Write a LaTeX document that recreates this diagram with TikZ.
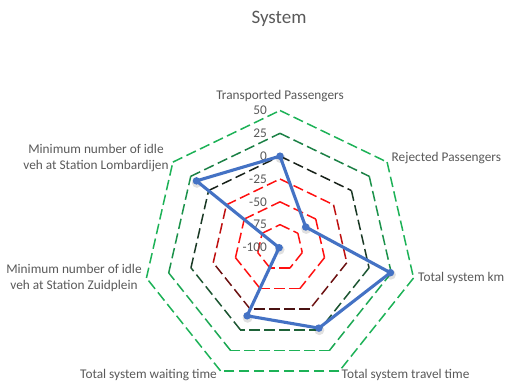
\documentclass[tikz,border=0pt]{standalone}
\usepackage{fontspec}
\setmainfont{Carlito}
\usetikzlibrary{calc}
\definecolor{txtgray}{HTML}{595959}
\definecolor{serblue}{HTML}{4472C4}
\definecolor{grnA}{HTML}{1DB257}
\definecolor{grnB}{HTML}{1B8045}
\definecolor{grnC}{HTML}{1E6238}
\definecolor{blkA}{HTML}{18221A}
\definecolor{redA}{HTML}{FF1010}
\definecolor{redB}{HTML}{4A1212}

\begin{document}
\begin{tikzpicture}[x=1pt,y=1pt,
  ring/.style={line width=1.5pt, dash pattern=on 10.5pt off 4.5pt, line cap=butt},
  lbl/.style={text=txtgray, font=\fontsize{13.3}{16}\selectfont, inner sep=0pt, align=center},
  tick/.style={text=txtgray, font=\fontsize{13.3}{16}\selectfont, inner sep=0pt, anchor=east},
  mk/.style={circle, fill=serblue, inner sep=0pt, minimum size=7.5pt},
  mkshadow/.style={circle, fill=black, opacity=0.12, inner sep=0pt, minimum size=10pt}]
\useasboundingbox (0,0) rectangle (506,385);
\coordinate (c) at (280,137.5);

% title
\node[text=txtgray, font=\fontsize{19}{22}\selectfont, inner sep=0pt] (title) at (279,366) {System};

% gridline rings: value / colour at the top / colour at the bottom
\foreach \v/\ct/\cb in {-75/redA/redA, -50/redA/redA, -25/redA/redB, 0/blkA/grnC, 25/grnB/grnA, 50/grnA/grnA} {
  \pgfmathsetmacro{\rr}{(\v+100)/150*137}
  \foreach \k in {0,...,6} {
    \pgfmathsetmacro{\angA}{90-\k*360/7}
    \pgfmathsetmacro{\angB}{90-(\k+1)*360/7}
    \pgfmathtruncatemacro{\pc}{100*((sin(\angA)+sin(\angB))/2+0.9)/1.71}
    \draw[ring, color=\ct!\pc!\cb]
      ($(c)+(\angA:\rr)$) -- ($(c)+(\angB:\rr)$);
  }
}

% axis scale
\foreach \v [count=\i] in {50,25,0,-25,-50,-75,-100}
  \node[tick] (tk\i) at (267,{137.5+(\v+100)/150*137}) {\v};

% axis labels
\node[lbl] (axA) at (280,289) {Transported Passengers};
\node[lbl, anchor=west] (axB) at (391.5,227) {Rejected Passengers};
\node[lbl, anchor=west] (axC) at (418,107) {Total system km};
\node[lbl, anchor=west] (axD) at (341.5,10) {Total system travel time};
\node[lbl, anchor=east] (axE) at (217,10) {Total system waiting time};
\node[lbl] (axF) at (74,107) {Minimum number of idle\\veh at Station Zuidplein};
\node[lbl] (axG) at (96,226.5) {Minimum number of idle\\veh at Station Lombardijen};

% data series
\foreach \k/\v in {0/0, 1/-64, 2/24, 3/-2, 4/-17, 5/-99, 6/17}
  \coordinate (p\k) at ($(c)+({90-\k*360/7}:{(\v+100)/150*137})$);
\foreach \k in {0,...,6}
  \node[mkshadow] (s\k) at ($(p\k)+(0.5,-2)$) {};
\draw[serblue, line width=3.1pt, line join=round]
  (p0) -- (p1) -- (p2) -- (p3) -- (p4) -- (p5) -- (p6) -- cycle;
\foreach \k in {0,...,6}
  \node[mk] (m\k) at (p\k) {};
\end{tikzpicture}
\end{document}
